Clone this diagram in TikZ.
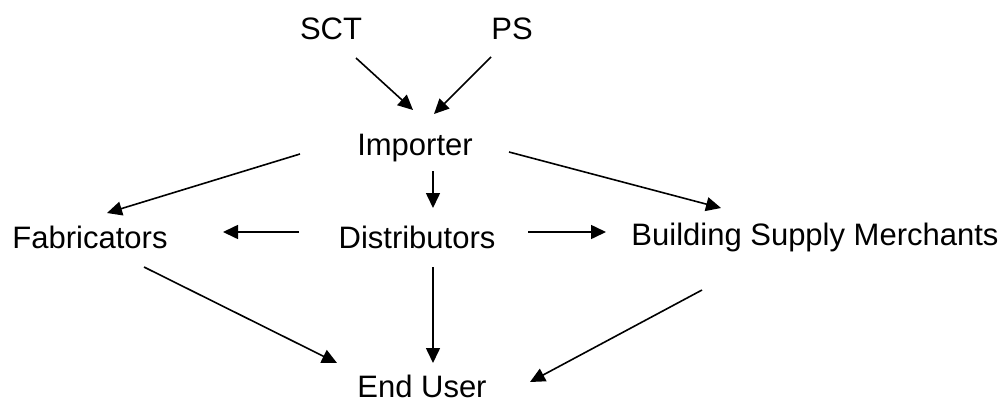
\documentclass[tikz,border=0pt]{standalone}
\usepackage{fontspec}
\setmainfont{Liberation Sans}
\usepackage{tikz}
\usetikzlibrary{arrows.meta}

\begin{document}
\begin{tikzpicture}[x=1pt, y=-1pt,
		party/.style={anchor=base, inner sep=0pt, font=\fontsize{31}{36}\selectfont},
		flow/.style={line width=1.6pt, -{Triangle[length=15pt, width=14pt]}}
		]
		\useasboundingbox (0,0) rectangle (1007,402);
		
		% suppliers and the supply chain below them
		\node[party] (sct) at (331,39) {SCT};
		\node[party] (ps) at (512,39) {PS};
		\node[party] (imp) at (415,155) {Importer};
		\node[party] (fab) at (90,248) {Fabricators};
		\node[party] (dist) at (417,248) {Distributors};
		\node[party] (bsm) at (815,245) {Building Supply Merchants};
		\node[party] (user) at (422,397) {End User};
		
		\draw[flow] ([shift={(25,19)}]sct.base) -- ([shift={(-2,-45)}]imp.base);
		\draw[flow] ([shift={(-21,18)}]ps.base) -- ([shift={(19,-41)}]imp.base);
		
		\draw[flow] ([shift={(-115,-1)}]imp.base) -- ([shift={(17,-35)}]fab.base);
		\draw[flow] ([shift={(18,16)}]imp.base) -- ([shift={(16,-40)}]dist.base);
		\draw[flow] ([shift={(94,-3)}]imp.base) -- ([shift={(-94,-37)}]bsm.base);
		
		\draw[flow] ([shift={(-118,-16)}]dist.base) -- ([shift={(133,-16)}]fab.base);
		\draw[flow] ([shift={(111,-16)}]dist.base) -- ([shift={(-209,-13)}]bsm.base);
		
		\draw[flow] ([shift={(54,19)}]fab.base) -- ([shift={(-85,-34)}]user.base);
		\draw[flow] ([shift={(16,19)}]dist.base) -- ([shift={(11,-34)}]user.base);
		\draw[flow] ([shift={(-113,45)}]bsm.base) -- ([shift={(108,-15)}]user.base);
		
\end{tikzpicture}
\end{document}
